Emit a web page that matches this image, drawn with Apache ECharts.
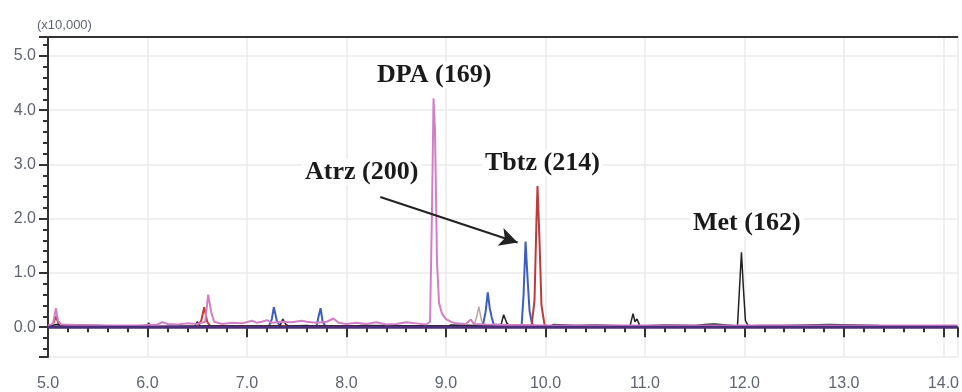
<!DOCTYPE html>
<html>
<head>
<meta charset="utf-8">
<script src="https://cdn.jsdelivr.net/npm/echarts@6/dist/echarts.min.js"></script>
<style>
  html, body { margin: 0; padding: 0; background: #fff; }
  #chart { width: 962px; height: 392px; }
</style>
</head>
<body>
<div id="chart"></div>
<script>
// retention time (min) vs intensity (x10,000)
const dpaTrace = [[5.0,0.03],[5.05,0.06],[5.08,0.35],[5.1,0.12],[5.13,0.05],[5.3,0.04],[5.6,0.03],[5.9,0.03],[6.1,0.05],[6.15,0.09],[6.2,0.06],[6.3,0.05],[6.4,0.07],[6.5,0.06],[6.58,0.1],[6.61,0.6],[6.64,0.28],[6.67,0.1],[6.75,0.06],[6.85,0.08],[6.95,0.07],[7.05,0.12],[7.1,0.08],[7.15,0.1],[7.2,0.13],[7.25,0.08],[7.35,0.1],[7.45,0.09],[7.55,0.12],[7.6,0.1],[7.7,0.08],[7.8,0.1],[7.87,0.16],[7.92,0.08],[8.0,0.06],[8.1,0.08],[8.2,0.06],[8.3,0.09],[8.4,0.05],[8.5,0.06],[8.6,0.09],[8.7,0.07],[8.8,0.05],[8.84,0.1],[8.86,2.2],[8.875,4.22],[8.89,3.6],[8.91,1.2],[8.93,0.45],[8.96,0.25],[9.0,0.15],[9.05,0.1],[9.1,0.07],[9.2,0.06],[9.25,0.14],[9.28,0.06],[9.4,0.05],[9.6,0.04],[9.8,0.04],[10.0,0.03],[10.5,0.03],[11.0,0.03],[12.0,0.03],[13.0,0.03],[14.14,0.03]];
const atrzTrace = [[5.0,0.01],[6.0,0.01],[7.22,0.02],[7.25,0.15],[7.27,0.37],[7.3,0.12],[7.33,0.02],[7.7,0.02],[7.72,0.2],[7.74,0.35],[7.76,0.1],[7.79,0.02],[9.37,0.02],[9.4,0.3],[9.42,0.64],[9.44,0.35],[9.46,0.18],[9.48,0.05],[9.5,0.02],[9.76,0.02],[9.78,0.6],[9.8,1.58],[9.82,0.9],[9.84,0.3],[9.86,0.1],[9.88,0.02],[14.14,0.01]];
const tbtzTrace = [[5.0,0.01],[5.05,0.05],[5.08,0.2],[5.11,0.04],[5.2,0.01],[6.5,0.01],[6.54,0.12],[6.57,0.37],[6.6,0.1],[6.63,0.02],[9.86,0.02],[9.89,0.5],[9.91,2.0],[9.92,2.6],[9.94,1.6],[9.96,0.4],[9.99,0.05],[10.02,0.01],[14.14,0.01]];
const metTrace = [[5.0,0.01],[5.08,0.05],[5.1,0.02],[6.0,0.01],[6.01,0.08],[6.03,0.01],[6.48,0.02],[6.5,0.1],[6.53,0.02],[7.33,0.02],[7.36,0.15],[7.39,0.05],[7.42,0.02],[7.6,0.03],[7.65,0.02],[8.1,0.02],[8.15,0.03],[9.02,0.02],[9.05,0.04],[9.55,0.02],[9.58,0.23],[9.61,0.08],[9.64,0.02],[10.05,0.02],[10.08,0.05],[10.3,0.03],[10.5,0.04],[10.85,0.02],[10.88,0.25],[10.9,0.1],[10.92,0.15],[10.95,0.02],[11.2,0.04],[11.5,0.03],[11.6,0.05],[11.7,0.06],[11.93,0.02],[11.95,0.7],[11.97,1.38],[11.99,0.7],[12.01,0.12],[12.04,0.02],[12.15,0.03],[12.4,0.03],[12.85,0.05],[13.35,0.03],[14.14,0.01]];
const otherTrace = [[9.28,0.02],[9.31,0.2],[9.33,0.38],[9.36,0.1],[9.39,0.02]];
const baseline = [[5.0,0],[14.14,0]];
const arrowFrom = [8.34, 2.40];
const arrowTo = [9.72, 1.56];

const chart = echarts.init(document.getElementById("chart"));

const labelStyle = { color: "#5f6470", fontSize: 16, fontFamily: "Liberation Sans, Arial, sans-serif" };
const annot = (text, x, y) => ({
  type: "text", left: x, top: y, z: 100,
  style: {
    text, fill: "#1a1a1a", font: "bold 26px 'Liberation Serif', 'Times New Roman', serif",
    backgroundColor: "#fff", padding: [0, 3]
  }
});
const trace = (data, color, width, z) => ({
  type: "line", data, showSymbol: false, symbol: "none", z: z || 2,
  lineStyle: { color, width }, animation: false
});

chart.setOption({
  animation: false,
  grid: { left: 48, right: 0, top: 37, bottom: 35 },
  xAxis: [{
    type: "value", min: 5, max: 14.14, interval: 1,
    axisLine: { lineStyle: { color: "#333", width: 2 } },
    axisTick: { length: 10, lineStyle: { color: "#333", width: 2 } },
    minorTick: { show: true, splitNumber: 5, length: 5, lineStyle: { color: "#333", width: 2 } },
    axisLabel: { ...labelStyle, margin: 19, showMaxLabel: false, formatter: (v) => v.toFixed(1) },
    splitLine: { show: true, lineStyle: { color: "#ebebeb", width: 1.5 } }
  }, {
    type: "value", position: "top", min: 5, max: 14.14,
    axisLine: { show: true, lineStyle: { color: "#333", width: 2 } },
    axisTick: { show: false }, axisLabel: { show: false }, splitLine: { show: false }
  }],
  yAxis: {
    type: "value", min: -0.55, max: 5.35, splitNumber: 6,
    axisLine: { show: true, lineStyle: { color: "#333", width: 2 } },
    axisTick: { show: true, length: 9, lineStyle: { color: "#333", width: 2 } },
    minorTick: { show: true, splitNumber: 5, length: 5, lineStyle: { color: "#333", width: 2 } },
    axisLabel: { ...labelStyle, margin: 12, showMinLabel: false, showMaxLabel: false, formatter: (v) => v.toFixed(1) },
    splitLine: { show: true, lineStyle: { color: "#ebebeb", width: 1.5 } }
  },
  graphic: [
    { type: "text", left: 37, top: 19, style: { text: "(x10,000)", fill: "#5f6470", font: "13px 'Liberation Sans', Arial, sans-serif" } },
    annot("DPA (169)", 374, 62),
    annot("Atrz (200)", 302, 159),
    annot("Tbtz (214)", 482, 150),
    annot("Met (162)", 690, 210)
  ],
  series: [
    trace(otherTrace, "#b9a9a4", 1.5),
    trace(atrzTrace, "#3c5fbf", 2),
    trace(tbtzTrace, "#c0393b", 2),
    trace(metTrace, "#222222", 1.5),
    trace(dpaTrace, "#d27fc7", 2),
    {
      ...trace(baseline, "#4b2f7c", 3, 3),
      markLine: {
        silent: true, symbol: ["none", "arrow"], symbolSize: [14, 18],
        label: { show: false },
        lineStyle: { color: "#222", width: 2, type: "solid" },
        data: [[{ coord: arrowFrom }, { coord: arrowTo }]]
      }
    }
  ]
});
</script>
</body>
</html>
